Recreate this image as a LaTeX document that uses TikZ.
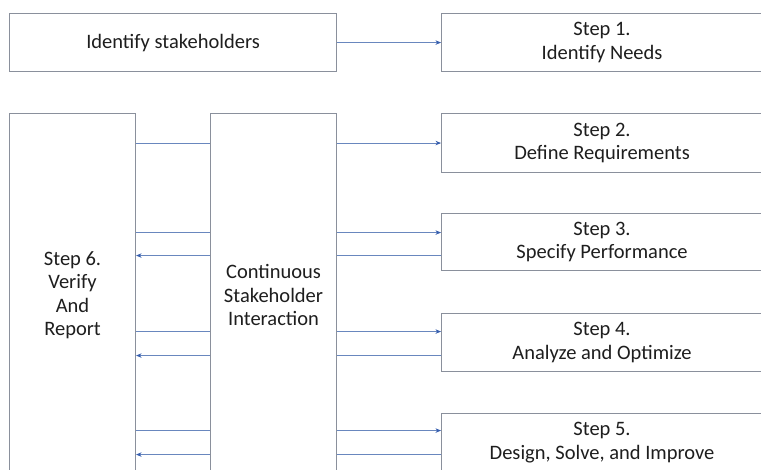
\documentclass[tikz,border=0pt]{standalone}
\usepackage{fontspec}
\setmainfont{Carlito}
\usetikzlibrary{arrows.meta}
\definecolor{boxgray}{RGB}{138,144,156}
\definecolor{conn}{RGB}{105,135,190}
\definecolor{tipc}{RGB}{55,95,175}
\definecolor{txt}{RGB}{30,30,30}
\begin{document}
\begin{tikzpicture}[x=1pt,y=-1pt,
 box/.style={draw=boxgray, line width=1.1pt, fill=white, inner sep=0pt, align=center,
   anchor=north west, font=\fontsize{20.5}{23.5}\selectfont, text=txt},
 con/.style={draw=conn, line width=0.8pt},
 arr/.style={con, -{Stealth[length=5.5pt,width=4.5pt,color=tipc]}}]
\useasboundingbox (0,0) rectangle (761,469);
\clip (0,0) rectangle (761,469);
\fill[white] (0,0) rectangle (761,469);

\node[box, minimum width=327pt, minimum height=58pt] (stake) at (9,13) {Identify stakeholders};
\node[box, minimum width=321pt, minimum height=58pt] (s1) at (441,13) {Step 1.\\Identify Needs};
\node[box, minimum width=321pt, minimum height=59pt] (s2) at (441,113) {Step 2.\\Define Requirements};
\node[box, minimum width=321pt, minimum height=57pt] (s3) at (441,213) {Step 3.\\Specify Performance};
\node[box, minimum width=321pt, minimum height=58pt] (s4) at (441,313) {Step 4.\\Analyze and Optimize};
\node[box, minimum width=321pt, minimum height=58pt] (s5) at (441,413) {Step 5.\\Design, Solve, and Improve};
\node[box, minimum width=126pt, minimum height=363pt] (s6) at (9,113) {Step 6.\\Verify\\And\\Report};
\node[box, minimum width=126pt, minimum height=363pt] (csi) at (210,113) {Continuous\\Stakeholder\\Interaction};

\coordinate (i3) at ([yshift=9.5pt]s3.west);
\coordinate (o3) at ([yshift=-13.5pt]s3.west);
\coordinate (i4) at ([yshift=11pt]s4.west);
\coordinate (o4) at ([yshift=-13pt]s4.west);
\coordinate (i5) at ([yshift=12pt]s5.west);
\coordinate (o5) at ([yshift=-12pt]s5.west);

\draw[arr] (stake.east) -- (s1.west);
\draw[arr] (s2.west -| csi.east) -- (s2.west);
\draw[con] (s2.west -| s6.east) -- (s2.west -| csi.west);

\draw[arr] (i3 -| csi.east) -- (i3);
\draw[con] (o3) -- (o3 -| csi.east);
\draw[con] (i3 -| s6.east) -- (i3 -| csi.west);
\draw[arr] (o3 -| csi.west) -- (o3 -| s6.east);

\draw[arr] (i4 -| csi.east) -- (i4);
\draw[con] (o4) -- (o4 -| csi.east);
\draw[con] (i4 -| s6.east) -- (i4 -| csi.west);
\draw[arr] (o4 -| csi.west) -- (o4 -| s6.east);

\draw[arr] (i5 -| csi.east) -- (i5);
\draw[con] (o5) -- (o5 -| csi.east);
\draw[con] (i5 -| s6.east) -- (i5 -| csi.west);
\draw[arr] (o5 -| csi.west) -- (o5 -| s6.east);
\end{tikzpicture}
\end{document}
